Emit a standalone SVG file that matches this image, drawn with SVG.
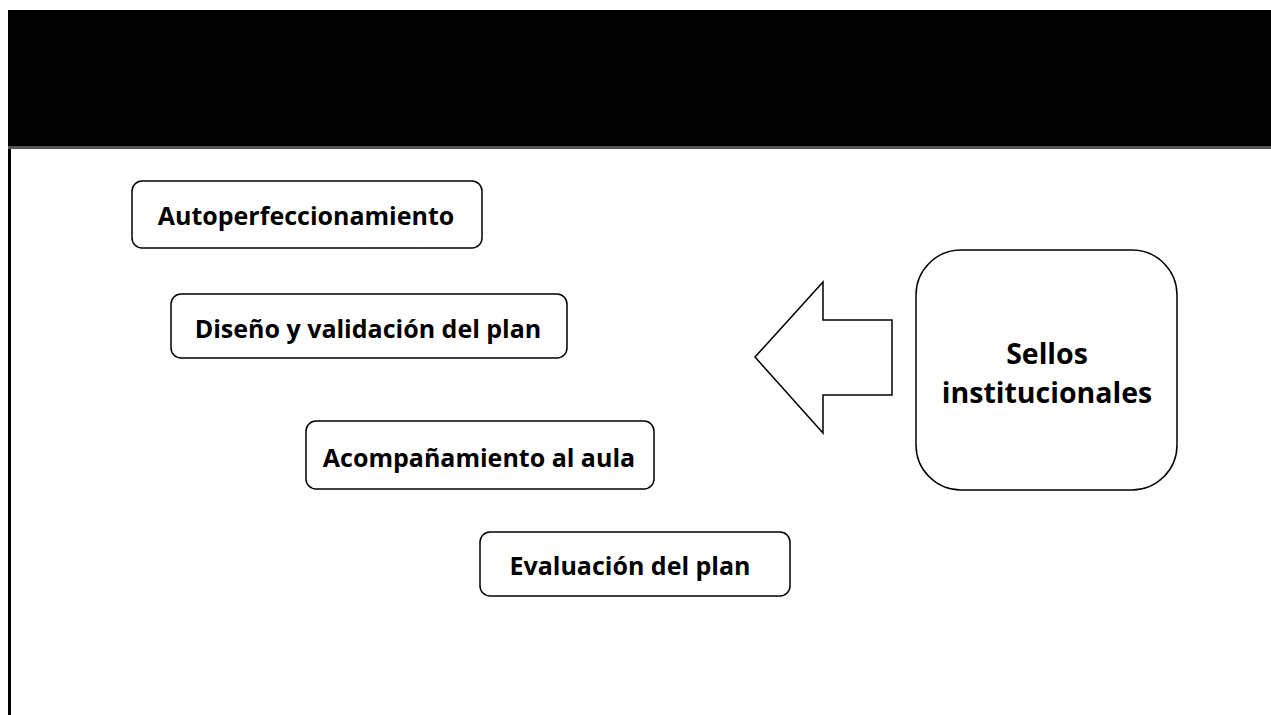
<svg xmlns="http://www.w3.org/2000/svg" width="1271" height="715" viewBox="0 0 1271 715">
<style>
.box{fill:#fff;stroke:#000;stroke-width:1.5}
.lbl{font-family:"Open Sans","Noto Sans","Liberation Sans",sans-serif;font-weight:bold;font-size:25px;fill:#000;text-anchor:middle}
.big{font-size:28.5px}
</style>
<rect x="0" y="0" width="1271" height="715" fill="#fff"/>
<g id="header">
<rect x="8" y="10" width="1263" height="139" fill="#000"/>
<rect x="8" y="146" width="1263" height="3" fill="#555"/>
</g>
<rect id="left-rule" x="8" y="149" width="3" height="566" fill="#000"/>
<g id="n1"><rect class="box" x="132" y="181" width="350" height="67" rx="10"/><text class="lbl" x="306" y="225">Autoperfeccionamiento</text></g>
<g id="n2"><rect class="box" x="171" y="294" width="396" height="64" rx="10"/><text class="lbl" x="368" y="338">Diseño y validación del plan</text></g>
<g id="n3"><rect class="box" x="306" y="421" width="348" height="68" rx="10"/><text class="lbl" x="479" y="467">Acompañamiento al aula</text></g>
<g id="n4"><rect class="box" x="480" y="532" width="310" height="64" rx="10"/><text class="lbl" x="630" y="575">Evaluación del plan</text></g>
<g id="n5"><rect class="box" x="916" y="250" width="261" height="240" rx="45"/><text class="lbl big" x="1047" y="364">Sellos</text><text class="lbl big" x="1047" y="403">institucionales</text></g>
<g id="connectors">
<polygon points="755,357 823,282 823,320 892,320 892,395 823,395 823,433" fill="#fff" stroke="#000" stroke-width="1.5"/>
</g>
</svg>
